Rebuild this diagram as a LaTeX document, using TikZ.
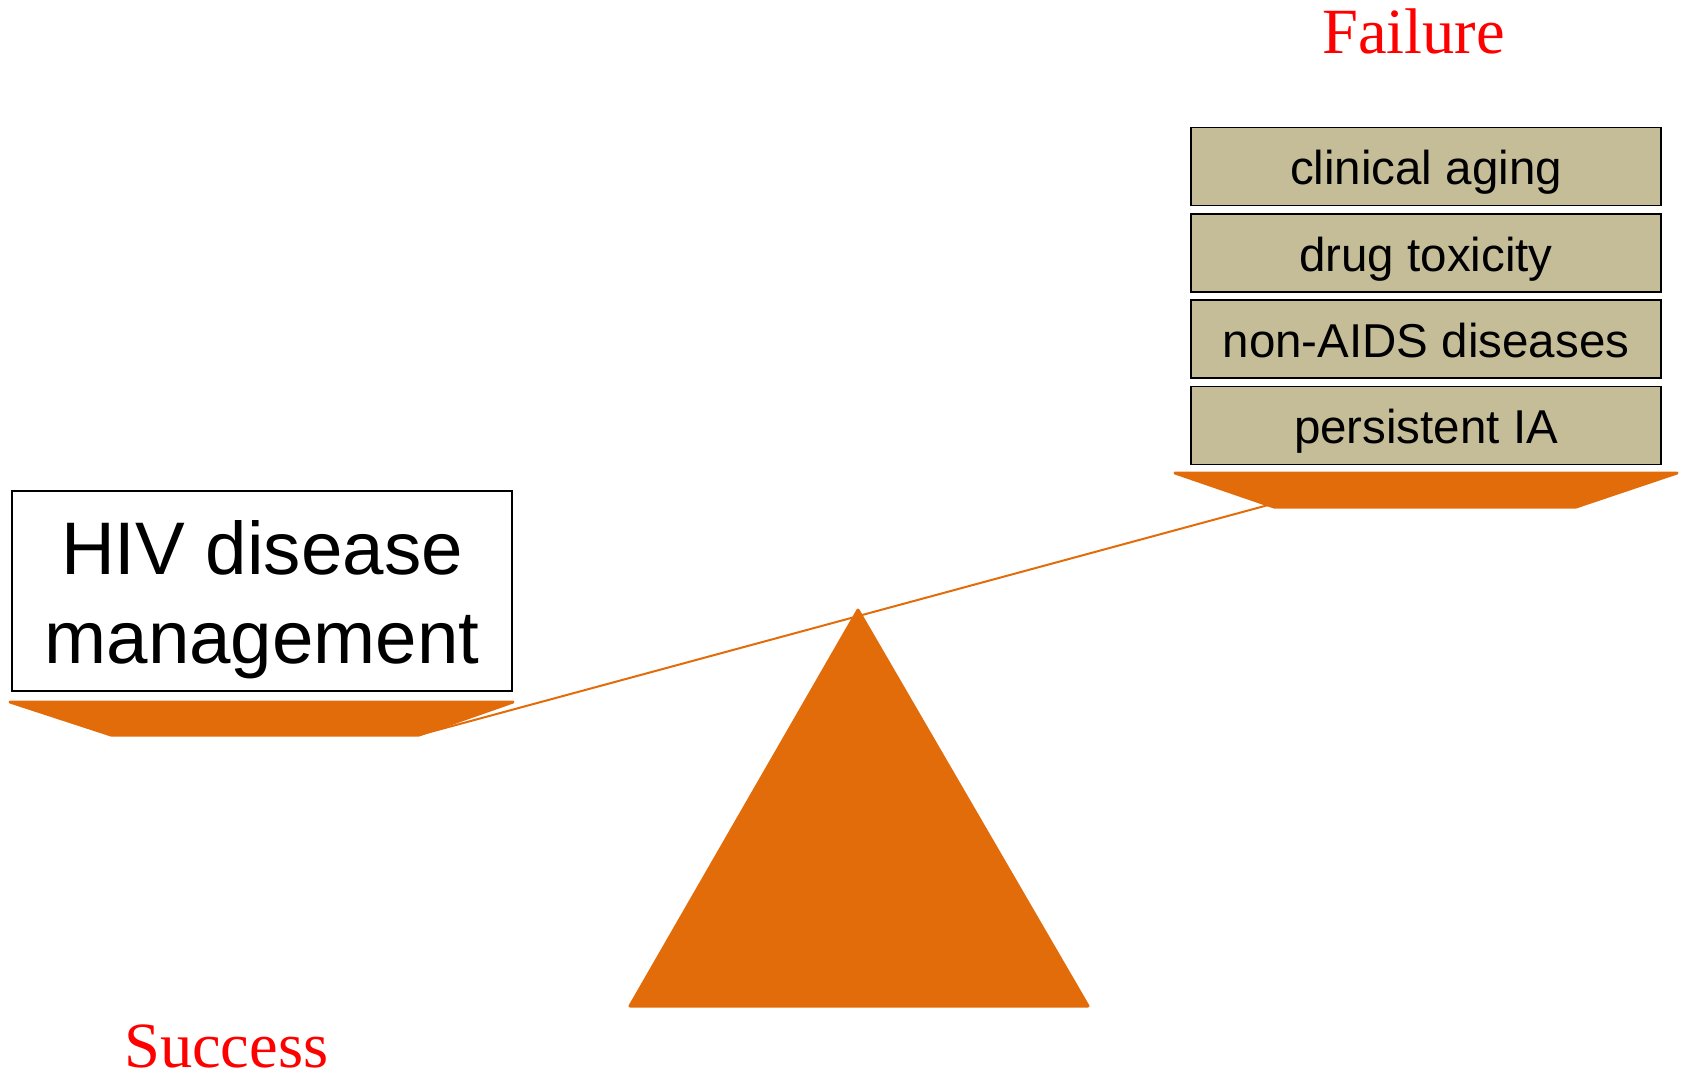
\documentclass[tikz,border=0pt]{standalone}
\usepackage{fontspec}
\setmainfont{Liberation Serif}
\newfontfamily\arialf{Liberation Sans}
\definecolor{pumpkin}{HTML}{E36C0A}
\definecolor{tanfill}{HTML}{C4BD97}
\definecolor{redtxt}{HTML}{FF0000}
\begin{document}
\begin{tikzpicture}[x=1pt,y=-1pt,
  panshape/.style={fill=pumpkin,draw=pumpkin,line width=3pt,line join=round},
  stackbox/.style={draw=black,line width=1.5pt,fill=tanfill,minimum width=470pt,minimum height=78pt,inner sep=0pt,
     font=\arialf\fontsize{47.5}{57}\selectfont,text height=40pt,text depth=4pt},
  bigtxt/.style={font=\arialf\fontsize{74.5}{89}\selectfont,anchor=base,inner sep=0pt},
  redlabel/.style={font=\fontsize{64.5}{70}\selectfont,text=redtxt,anchor=base west,inner sep=0pt}]
\useasboundingbox (0,0) rectangle (1683,1080);
% fulcrum
\draw[panshape] (858,610) -- (1088,1006) -- (630,1006) -- cycle;
% pans
\draw[panshape] (10,702) -- (513,702) -- (419,735) -- (111,735) -- cycle;
\draw[panshape] (1175,473) -- (1677,473) -- (1576,507) -- (1274,507) -- cycle;
\coordinate (lpan) at (419,735);
\coordinate (rpan) at (1272,504);
% beam
\draw[pumpkin,line width=2pt] (lpan) -- (rpan);
% left box
\node (hivbox) [draw=black,line width=1.5pt,fill=white,minimum width=500pt,minimum height=200pt,inner sep=0pt] at (262,591) {};
\node (hivA) [bigtxt] at (262,574) {HIV disease};
\node (hivB) [bigtxt] at (262,663) {management};
% right stack
\node (b1) [stackbox] at (1426,166.5) {clinical aging};
\node (b2) [stackbox] at (1426,253) {drug toxicity};
\node (b3) [stackbox] at (1426,339) {non-AIDS diseases};
\node (b4) [stackbox] at (1426,425.5) {persistent IA};
% labels
\node (fail) [redlabel] at (1322,53) {Failure};
\node (succ) [redlabel] at (124,1067) {Success};
\end{tikzpicture}
\end{document}
